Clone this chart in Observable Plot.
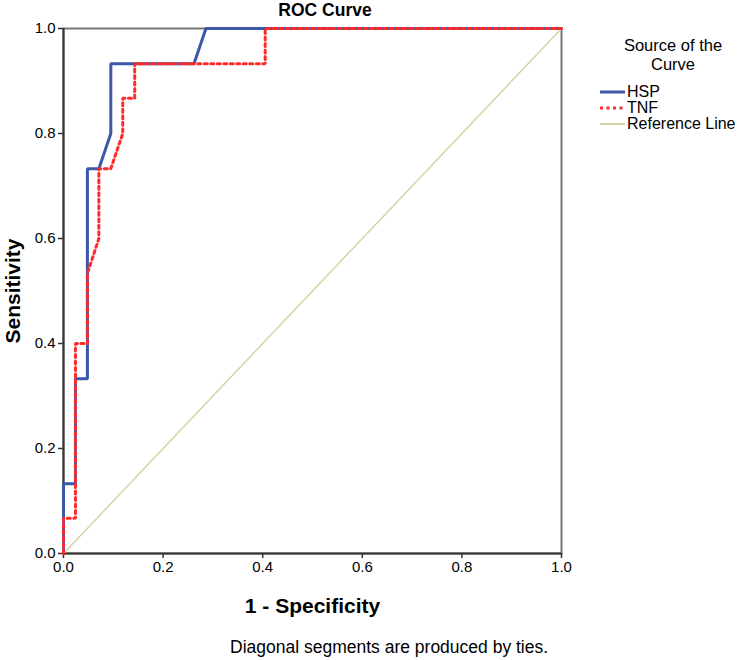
<!DOCTYPE html>
<html>
<head>
<meta charset="utf-8">
<script src="https://cdn.jsdelivr.net/npm/d3@7"></script>
<script src="https://cdn.jsdelivr.net/npm/@observablehq/plot@0.6"></script>
<style>
  body { margin: 0; background: #fff; }
  #wrap { position: relative; width: 744px; height: 660px; overflow: hidden; font-family: "Liberation Sans", Arial, sans-serif; color: #000; }
  #title { position: absolute; top: 0px; left: 225px; width: 200px; text-align: center; font-weight: bold; font-size: 17.5px; }
  #chart { position: absolute; left: 0; top: 0; }
  #chart svg g[aria-label="x-axis label"] text,
  #chart svg g[aria-label="y-axis label"] text { font-weight: bold; font-size: 21px; fill: #000; }
  #chart svg g[aria-label="x-axis tick label"] text,
  #chart svg g[aria-label="y-axis tick label"] text { font-size: 15px; fill: #000; }
  #legend { position: absolute; left: 600px; top: 36px; width: 144px; font-size: 16px; }
  #legend .head { text-align: center; font-size: 16.5px; line-height: 19px; margin-left: 2px; width: 142px; margin-bottom: 10px; }
  #legend .item { display: flex; align-items: center; height: 16px; white-space: nowrap; }
  #legend svg { margin-right: 2px; flex: none; }
  #caption { position: absolute; top: 637px; left: 230px; font-size: 17.5px; white-space: nowrap; }
</style>
</head>
<body>
<div id="wrap">
  <div id="chart"></div>
  <div id="title">ROC Curve</div>
  <div id="legend"></div>
  <div id="caption">Diagonal segments are produced by ties.</div>
</div>
<script>
// ROC coordinates: false positive rate (1 - specificity) and sensitivity
const hspFpr = [0, 0, 0.024, 0.024, 0.048, 0.048, 0.071, 0.095, 0.095, 0.262, 0.286, 1];
const hspTpr = [0, 0.133, 0.133, 0.333, 0.333, 0.733, 0.733, 0.8, 0.933, 0.933, 1, 1];

const tnfFpr = [0, 0, 0.024, 0.024, 0.048, 0.048, 0.071, 0.071, 0.095, 0.119, 0.119, 0.143, 0.143, 0.405, 0.405, 1];
const tnfTpr = [0, 0.067, 0.067, 0.4, 0.4, 0.533, 0.6, 0.733, 0.733, 0.8, 0.867, 0.867, 0.933, 0.933, 1, 1];

const refX = [0, 1];
const refY = [0, 1];

const ticks = [0, 0.2, 0.4, 0.6, 0.8, 1.0];

const seriesNames = ["HSP", "TNF", "Reference Line"];
const seriesColors = ["#3b57a9", "#ff2b2b", "#d8d5a4"];

const toPts = (xs, ys) => xs.map((x, i) => ({x, y: ys[i]}));
const hsp = toPts(hspFpr, hspTpr);
const tnf = toPts(tnfFpr, tnfTpr);
const ref = toPts(refX, refY);

const chart = Plot.plot({
  width: 581,
  height: 640,
  marginTop: 28,
  marginLeft: 63,
  marginRight: 20,
  marginBottom: 87,
  style: {fontFamily: "'Liberation Sans', Arial, sans-serif", background: "#fff"},
  x: {domain: [0, 1]},
  y: {domain: [0, 1]},
  marks: [
    Plot.frame({stroke: "#777", strokeWidth: 2}),
    Plot.axisX({ticks, tickFormat: d3.format(".1f"), tickSize: 5, tickPadding: 3,
      label: "1 - Specificity", labelAnchor: "center", labelOffset: 59, labelArrow: "none", stroke: "#333", strokeWidth: 1.5}),
    Plot.axisY({ticks, tickFormat: d3.format(".1f"), tickSize: 5, tickPadding: 3,
      label: "Sensitivity", labelAnchor: "center", labelOffset: 58, labelArrow: "none", stroke: "#333", strokeWidth: 1.5}),
    Plot.ruleX([0], {stroke: "#333", strokeWidth: 2}),
    Plot.ruleY([0], {stroke: "#333", strokeWidth: 2}),
    Plot.line(ref, {x: "x", y: "y", stroke: seriesColors[2], strokeWidth: 1.5}),
    Plot.line(hsp, {x: "x", y: "y", stroke: seriesColors[0], strokeWidth: 3, strokeLinejoin: "miter"}),
    Plot.line(tnf, {x: "x", y: "y", stroke: seriesColors[1], strokeWidth: 3, strokeDasharray: "3,3.5", strokeLinejoin: "miter"})
  ]
});
document.getElementById("chart").appendChild(chart);

// Legend: "Source of the Curve"
const legend = document.getElementById("legend");
const head = document.createElement("div");
head.className = "head";
head.innerHTML = "Source of the<br>Curve";
legend.appendChild(head);
const dashes = [null, "3,3.5", null];
const widths = [3, 3, 2];
seriesNames.forEach((name, i) => {
  const row = document.createElement("div");
  row.className = "item";
  const sw = d3.create("svg").attr("width", 25).attr("height", 8);
  sw.append("line").attr("x1", 0).attr("x2", 25).attr("y1", 4).attr("y2", 4)
    .attr("stroke", seriesColors[i]).attr("stroke-width", widths[i])
    .attr("stroke-dasharray", dashes[i]);
  row.appendChild(sw.node());
  const label = document.createElement("span");
  label.textContent = name;
  row.appendChild(label);
  legend.appendChild(row);
});
</script>
</body>
</html>
